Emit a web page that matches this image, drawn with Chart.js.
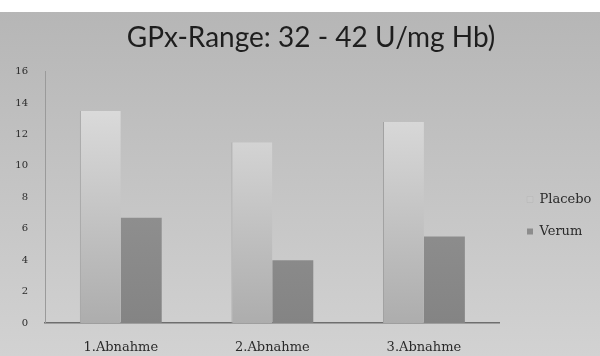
<!DOCTYPE html>
<html lang="de">
<head>
  <meta charset="UTF-8">
  <title>GPx-Range</title>
  <style>
    body { margin: 0; background: #fff; }
    #wrap { width: 600px; height: 356px; }
  </style>
</head>
<body>
  <div id="wrap"><canvas id="myChart" width="600" height="356"></canvas></div>
  <script src="https://cdn.jsdelivr.net/npm/chart.js"></script>
  <script>
    const categories = ['1.Abnahme', '2.Abnahme', '3.Abnahme'];
    const placebo = [13.5, 11.5, 12.8];
    const verum = [6.7, 4.0, 5.5];
    const yTicks = [0, 2, 4, 6, 8, 10, 12, 14, 16];

    // grauer Hintergrund wie im Scan, oben weisser Rand
    const bgPlugin = {
      id: 'bg',
      beforeDraw(chart) {
        const c = chart.ctx;
        const g = c.createLinearGradient(0, 12, 0, chart.height);
        g.addColorStop(0, '#b6b6b6');
        g.addColorStop(0.5, '#c4c4c4');
        g.addColorStop(1, '#d2d2d2');
        c.save();
        c.fillStyle = '#ffffff';
        c.fillRect(0, 0, chart.width, 12);
        c.fillStyle = g;
        c.fillRect(0, 12, chart.width, chart.height - 12);
        c.restore();
      }
    };

    // Legende und Titel etwas verschieben
    const shiftBoxes = {
      id: 'shiftBoxes',
      afterLayout(chart) {
        const lg = chart.legend;
        const dx = 508 - lg.left;
        lg.left += dx; lg.right += dx;
        lg.top += 36; lg.bottom += 36;
        const tb = chart.titleBlock;
        tb.left += 7; tb.right += 7;
      }
    };

    function barGradient(top, bottom) {
      return (ctx) => {
        const area = ctx.chart.chartArea;
        if (!area) return top;
        const g = ctx.chart.ctx.createLinearGradient(0, area.top, 0, area.bottom);
        g.addColorStop(0, top);
        g.addColorStop(1, bottom);
        return g;
      };
    }

    new Chart(document.getElementById('myChart'), {
      type: 'bar',
      data: {
        labels: categories,
        datasets: [
          {
            label: 'Placebo',
            data: placebo,
            backgroundColor: barGradient('#e2e2e2', '#adadad'),
            borderColor: '#a2a2a2',
            borderWidth: { left: 1, right: 0, top: 0, bottom: 0 },
            categoryPercentage: 0.54,
            barPercentage: 1
          },
          {
            label: 'Verum',
            data: verum,
            backgroundColor: barGradient('#9c9c9c', '#848484'),
            categoryPercentage: 0.54,
            barPercentage: 1
          }
        ]
      },
      options: {
        responsive: false,
        animation: false,
        layout: { padding: { top: 4, left: 15, right: 7, bottom: 1 } },
        plugins: {
          title: {
            display: true,
            text: 'GPx-Range: 32 - 42 U/mg Hb)',
            color: '#1e1e1e',
            font: { family: 'Lato', size: 28, weight: 'normal' },
            padding: { top: 17, bottom: 17 }
          },
          legend: {
            position: 'right',
            labels: {
              color: '#2a2a2a',
              font: { family: 'DejaVu Serif', size: 13 },
              boxWidth: 6,
              boxHeight: 6,
              padding: 19
            }
          },
          tooltip: { enabled: false }
        },
        scales: {
          x: {
            grid: { display: false },
            border: { color: '#6e6e6e', width: 1.5 },
            ticks: {
              color: '#2a2a2a',
              font: { family: 'DejaVu Serif', size: 13 },
              padding: 9
            },
            afterFit: (scale) => {
              scale.height = 32;
              scale.paddingLeft = 0;
              scale.paddingRight = 0;
            }
          },
          y: {
            min: 0,
            max: 16,
            afterBuildTicks: (axis) => { axis.ticks = yTicks.map(v => ({ value: v })); },
            grid: { display: false },
            border: { color: '#9a9a9a', width: 1 },
            ticks: {
              color: '#2a2a2a',
              font: { family: 'DejaVu Serif', size: 10 },
              padding: 9
            },
            afterFit: (scale) => { scale.width = 30; }
          }
        }
      },
      plugins: [bgPlugin, shiftBoxes]
    });
  </script>
</body>
</html>
